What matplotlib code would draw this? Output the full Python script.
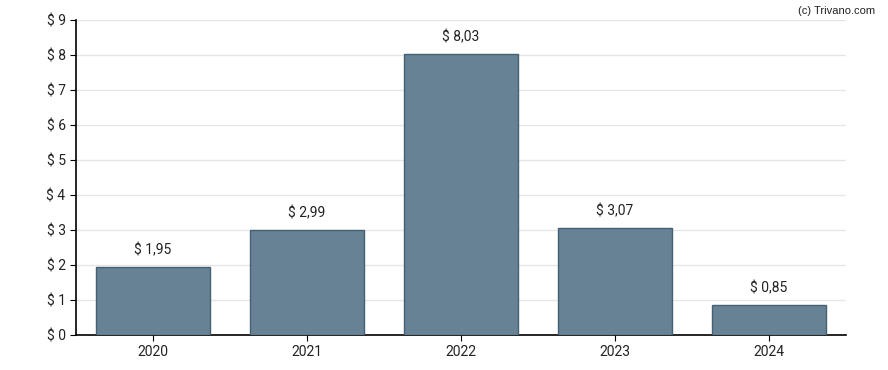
import matplotlib
matplotlib.use('Agg')
import matplotlib.pyplot as plt

# data
years = ['2020', '2021', '2022', '2023', '2024']
values = [1.95, 2.99, 8.03, 3.07, 0.85]
yticks = list(range(0, 10))

plt.rcParams['font.family'] = ['Roboto', 'DejaVu Sans']

fig = plt.figure(figsize=(8.88, 3.70), dpi=100)
ax = fig.add_axes([76 / 888, 35 / 370, 770 / 888, 315 / 370])

x = range(len(years))
ax.bar(x, values, width=0.74, color='#668294', edgecolor='#456073', linewidth=1, zorder=3)

# value labels above the bars
for xi, v in zip(x, values):
    ax.annotate(f'$ {v:.2f}'.replace('.', ','), xy=(xi, v), xytext=(0, 7),
                textcoords='offset points', ha='center', va='bottom',
                fontsize=10, color='#222222')

ax.set_xlim(-0.5, len(years) - 0.5)
ax.set_ylim(0, 9)
ax.set_xticks(list(x))
ax.set_xticklabels(years)
ax.set_yticks(yticks)
ax.set_yticklabels([f'$ {t}' for t in yticks])
ax.tick_params(axis='both', labelsize=10, colors='#222222', length=4)
ax.tick_params(axis='both', color='black')

ax.grid(axis='y', color='#e6e6e6', linewidth=1, zorder=0)
ax.set_axisbelow(True)
for s in ['top', 'right']:
    ax.spines[s].set_visible(False)
ax.spines['left'].set_linewidth(1.2)
ax.spines['bottom'].set_linewidth(1.2)

fig.text(0.985, 0.985, '(c) Trivano.com', ha='right', va='top',
         fontsize=8, color='#222222', family=['Liberation Sans', 'DejaVu Sans'])

fig.savefig('out.png', dpi=100, facecolor='white')
